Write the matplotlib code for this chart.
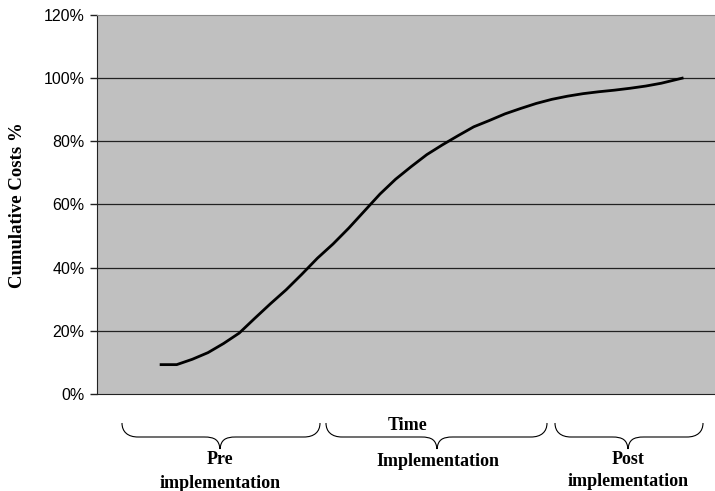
import matplotlib.pyplot as plt
from matplotlib.path import Path
from matplotlib.patches import PathPatch
from matplotlib.ticker import PercentFormatter

# time (arbitrary units) and cumulative cost share (%)
time = [0, 3, 6, 9, 12, 15, 18, 21, 24, 27, 30, 33, 36, 39, 42, 45, 48,
        51, 54, 57, 60, 63, 66, 69, 72, 75, 78, 81, 84, 87, 90, 93, 96, 100]
cum_cost = [9.3, 9.3, 11.0, 13.1, 16.0, 19.3, 24.0, 28.6, 33.0, 37.9, 43.0,
            47.5, 52.5, 57.9, 63.3, 68.0, 72.0, 75.8, 78.9, 81.8, 84.6, 86.6,
            88.7, 90.4, 92.0, 93.3, 94.3, 95.1, 95.7, 96.2, 96.8, 97.5, 98.4, 100.0]
y_ticks = [0, 20, 40, 60, 80, 100, 120]

W, H = 715, 491
fig = plt.figure(figsize=(W / 100, H / 100), dpi=100)
ax = fig.add_axes([97 / W, 1 - 394 / H, 1 - 97 / W, (394 - 15) / H])
ax.set_facecolor('#c0c0c0')

for t in y_ticks[1:-1]:
    ax.axhline(t, color='#222222', lw=0.9, zorder=1)
ax.plot(time, cum_cost, color='black', lw=2.0, zorder=3)

ax.set_xlim(-12.3, 106.3)
ax.set_ylim(0, 120)
ax.set_yticks(y_ticks)
ax.yaxis.set_major_formatter(PercentFormatter(decimals=0))
ax.set_xticks([])
ax.tick_params(axis='y', direction='out', length=5, width=1, color='#222222',
               labelsize=11.5, pad=4)
for lab in ax.get_yticklabels():
    lab.set_fontfamily('Liberation Sans')
ax.spines['right'].set_visible(False)
ax.spines['top'].set_color('#888888')
ax.spines['left'].set_color('#222222')
ax.spines['bottom'].set_color('#222222')

fig.text(18 / W, 1 - 205 / H, 'Cumulative Costs %', rotation=90, ha='center',
         va='center', fontsize=13.5, fontweight='bold', family='Liberation Serif')


def fx(px):
    return px / W


def fy(py):
    return 1 - py / H


def brace(x0, x1, xtip, ytop=423, yflat=437, ytip=449):
    r = 16
    pts = [(x0, ytop), (x0, yflat - 5), (x0 + 6, yflat), (x0 + r, yflat),
           (xtip - r, yflat),
           (xtip - 5, yflat), (xtip - 1, yflat + 3), (xtip, ytip),
           (xtip + 1, yflat + 3), (xtip + 5, yflat), (xtip + r, yflat),
           (x1 - r, yflat),
           (x1 - 6, yflat), (x1, yflat - 5), (x1, ytop)]
    codes = [Path.MOVETO, Path.CURVE4, Path.CURVE4, Path.CURVE4,
             Path.LINETO,
             Path.CURVE4, Path.CURVE4, Path.CURVE4,
             Path.CURVE4, Path.CURVE4, Path.CURVE4,
             Path.LINETO,
             Path.CURVE4, Path.CURVE4, Path.CURVE4]
    path = Path([(fx(a), fy(b)) for a, b in pts], codes)
    fig.patches.append(PathPatch(path, fc='none', ec='black', lw=0.8,
                                 transform=fig.transFigure))


brace(122, 320, 220)
brace(326, 547, 437)
brace(555, 703, 628)

txt = dict(ha='center', va='center', fontsize=13, fontweight='bold',
           family='Liberation Serif')
fig.text(fx(408), fy(425), 'Time', **txt)
fig.text(fx(220), fy(459), 'Pre', **txt)
fig.text(fx(220), fy(483), 'implementation', **txt)
fig.text(fx(438), fy(461), 'Implementation', **txt)
fig.text(fx(628), fy(459), 'Post', **txt)
fig.text(fx(628), fy(482), 'implementation', **txt)

fig.savefig('out.png', dpi=100)
